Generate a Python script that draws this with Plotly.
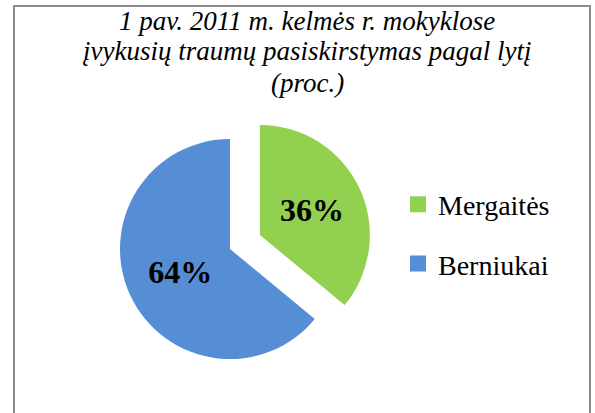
import plotly.graph_objects as go

# Data
labels = ["Mergaitės", "Berniukai"]
values = [36, 64]
colors = ["#92D050", "#558ED5"]
pulls = [0.3, 0]
title_lines = [
    "1 pav. 2011 m. kelmės r. mokyklose",
    "įvykusių traumų pasiskirstymas pagal lytį",
    "(proc.)",
]

W, H = 595, 413

fig = go.Figure()

fig.add_trace(go.Pie(
    labels=labels,
    values=values,
    marker=dict(colors=colors, line=dict(width=0)),
    pull=pulls,
    sort=False,
    direction="clockwise",
    rotation=0,
    textinfo="percent",
    texttemplate="<b>%{percent:.0%}</b>",
    textposition="inside",
    insidetextorientation="horizontal",
    insidetextfont=dict(family="Liberation Serif", size=32, color="black"),
    showlegend=False,
    hoverinfo="label+percent",
    domain=dict(x=[87 / W, 373 / W], y=[21 / H, 307 / H]),
))

# legend entries (square swatches) for each category
for i, (lab, col) in enumerate(zip(labels, colors)):
    fig.add_trace(go.Scatter(
        x=[None], y=[None], mode="markers", name=lab,
        legendgroup=f"g{i}",
        marker=dict(symbol="square", size=16, color=col),
        hoverinfo="skip",
    ))

title_y = [21, 51, 83]
annotations = [
    dict(
        text="<i>" + line + "</i>",
        xref="paper", yref="paper",
        x=307 / W, xanchor="center",
        y=1 - yy / H, yanchor="middle",
        showarrow=False,
        font=dict(family="Liberation Serif", size=27, color="black"),
    )
    for line, yy in zip(title_lines, title_y)
]

fig.update_layout(
    width=W, height=H,
    margin=dict(l=0, r=0, t=0, b=0),
    paper_bgcolor="white",
    plot_bgcolor="white",
    xaxis=dict(visible=False),
    yaxis=dict(visible=False),
    annotations=annotations,
    legend=dict(
        x=398 / W, xanchor="left",
        y=1 - 234 / H, yanchor="middle",
        font=dict(family="Liberation Serif", size=28, color="black"),
        traceorder="grouped",
        tracegroupgap=20,
        itemsizing="trace",
        bgcolor="rgba(0,0,0,0)",
    ),
    shapes=[dict(
        type="rect", xref="paper", yref="paper",
        x0=14 / W, x1=590 / W, y0=-0.05, y1=1 - 6 / H,
        line=dict(color="#8c8c8c", width=2),
        fillcolor="rgba(0,0,0,0)",
        layer="below",
    )],
)

fig.write_html("out.html", config={"displayModeBar": False},
               post_script="document.body.style.margin='0';")
